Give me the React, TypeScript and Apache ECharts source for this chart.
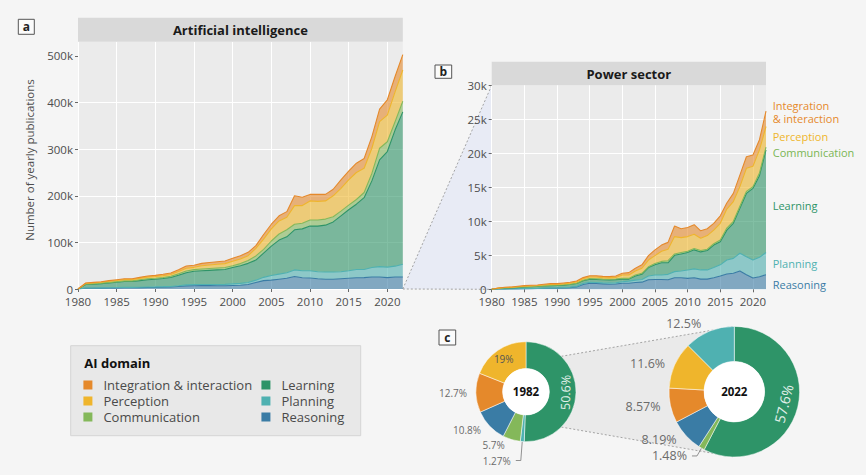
import React, { useEffect, useRef } from 'react';
import * as echarts from 'echarts';

const FONT = '"Open Sans", "Noto Sans", sans-serif';

const years = ['1980', '1981', '1982', '1983', '1984', '1985', '1986', '1987', '1988', '1989', '1990', '1991', '1992', '1993', '1994', '1995', '1996', '1997', '1998', '1999', '2000', '2001', '2002', '2003', '2004', '2005', '2006', '2007', '2008', '2009', '2010', '2011', '2012', '2013', '2014', '2015', '2016', '2017', '2018', '2019', '2020', '2021', '2022'];
const yTicksAI = [0, 100, 200, 300, 400, 500];
const yTicksPS = [0, 5, 10, 15, 20, 25, 30];

// Artificial intelligence, thousands of publications per year
const reasoningAI = [0, 1.5, 1.7, 1.9, 2.1, 2.4, 2.6, 2.7, 3.0, 3.3, 3.5, 3.8, 4.2, 5.5, 6.8, 7.0, 7.3, 7.2, 7.0, 7.0, 7.5, 8.0, 9.5, 14, 18, 19, 21, 23, 27, 24, 23.5, 22, 21, 21, 22, 23, 24, 24.5, 25.7, 25.7, 24.5, 25.7, 25.7];
const planningAI = [0, 0.5, 0.5, 0.6, 0.7, 0.7, 0.8, 0.8, 0.9, 1.0, 1.1, 1.2, 1.3, 1.5, 2.0, 2.5, 2.5, 2.6, 2.7, 3.0, 3.5, 4.0, 4.5, 5, 7, 10, 11, 12, 14, 15, 15.5, 15, 15.5, 15.5, 15, 16, 18, 17.5, 20.3, 22.3, 22.5, 23.3, 27.3];
const learningAI = [0, 7.5, 8.3, 9.0, 10.2, 11.4, 12.6, 12.5, 14.1, 15.7, 16.4, 17.5, 19.3, 22.5, 26.2, 28.5, 29.2, 30.2, 31.3, 32.0, 35, 38, 41, 43, 52, 63, 73, 77, 86, 90, 96, 98, 100.5, 107.5, 120, 131, 140, 154, 186, 229, 248, 292, 327];
const communicationAI = [0, 1.0, 1.0, 1.1, 1.2, 1.3, 1.5, 1.5, 1.8, 2.0, 2.2, 2.3, 2.4, 3.0, 3.5, 3.5, 4.0, 4.0, 4.0, 4.0, 4.0, 4.5, 6.0, 9, 8, 11, 13, 15, 12, 12, 13, 13, 13, 11, 10, 10, 10, 11, 16, 25, 21, 18, 23];
const perceptionAI = [0, 1.5, 1.7, 1.9, 2.3, 2.5, 2.7, 2.7, 3.0, 3.4, 3.5, 3.9, 4.0, 5.0, 6.0, 5.0, 7.0, 7.5, 8.0, 8.5, 9.5, 10.0, 10.5, 16, 22, 26, 28, 27, 40, 38, 41, 40, 39, 45, 49, 54, 58, 52, 54, 57, 57, 64, 67];
const integrationAI = [0, 0.9, 1.1, 1.2, 1.4, 1.7, 1.8, 1.8, 2.2, 2.5, 2.6, 2.8, 3.1, 4.0, 4.9, 4.5, 5.0, 5.5, 5.6, 5.5, 6.3, 7.0, 7.2, 6, 10, 10, 11, 12, 21, 18, 14, 15, 14, 14, 18, 19, 20, 21, 25, 27, 33, 33, 33];

// Power sector, thousands of publications per year
const reasoningPS = [0, 0.02, 0.032, 0.04, 0.06, 0.08, 0.1, 0.11, 0.14, 0.16, 0.17, 0.2, 0.25, 0.35, 0.7, 0.88, 0.85, 0.8, 0.75, 0.78, 0.9, 0.9, 1.0, 1.05, 1.4, 1.45, 1.45, 1.4, 1.7, 1.7, 1.6, 1.7, 1.5, 1.5, 1.7, 1.95, 2.25, 2.35, 2.7, 2.15, 1.65, 1.85, 2.15];
const planningPS = [0, 0.002, 0.004, 0.005, 0.01, 0.02, 0.02, 0.02, 0.02, 0.03, 0.03, 0.04, 0.05, 0.07, 0.15, 0.15, 0.15, 0.15, 0.17, 0.17, 0.2, 0.3, 0.35, 0.4, 0.55, 0.65, 0.65, 0.8, 0.9, 1.0, 1.25, 1.3, 1.35, 1.35, 1.5, 1.65, 2.05, 2.2, 2.6, 2.65, 2.65, 2.85, 3.27];
const learningPS = [0, 0.098, 0.152, 0.165, 0.21, 0.24, 0.26, 0.28, 0.32, 0.35, 0.35, 0.38, 0.4, 0.43, 0.4, 0.44, 0.45, 0.45, 0.46, 0.47, 0.4, 0.3, 0.6, 0.75, 1.25, 1.5, 1.8, 1.7, 2.4, 2.5, 2.55, 2.8, 2.65, 2.85, 3.3, 3.4, 4.4, 5.15, 6.6, 9.3, 10.55, 12.0, 15.09];
const communicationPS = [0, 0.01, 0.017, 0.02, 0.02, 0.03, 0.03, 0.03, 0.03, 0.04, 0.04, 0.04, 0.05, 0.05, 0.08, 0.1, 0.1, 0.1, 0.1, 0.1, 0.1, 0.1, 0.15, 0.15, 0.1, 0.2, 0.2, 0.3, 0.2, 0.2, 0.2, 0.2, 0.2, 0.2, 0.2, 0.25, 0.3, 0.3, 0.3, 0.3, 0.25, 0.4, 0.39];
const perceptionPS = [0, 0.04, 0.057, 0.06, 0.08, 0.09, 0.1, 0.11, 0.12, 0.13, 0.13, 0.14, 0.14, 0.17, 0.22, 0.23, 0.25, 0.22, 0.2, 0.23, 0.5, 0.5, 0.6, 0.75, 1.0, 1.15, 1.5, 1.7, 2.55, 2.2, 2.15, 2.1, 1.8, 2.0, 2.0, 2.45, 2.8, 2.9, 2.9, 3.4, 3.0, 3.4, 3.04];
const integrationPS = [0, 0.03, 0.038, 0.05, 0.06, 0.08, 0.09, 0.09, 0.11, 0.12, 0.11, 0.13, 0.14, 0.16, 0.17, 0.2, 0.2, 0.18, 0.19, 0.21, 0.25, 0.35, 0.4, 0.5, 0.65, 0.85, 0.9, 1.0, 1.55, 1.3, 1.35, 1.4, 1.1, 1.0, 1.0, 1.1, 0.9, 1.2, 1.7, 1.7, 1.65, 1.5, 2.25];

// Shares (%) of the power-sector publications
const pie1982Names = ['Learning', 'Planning', 'Communication', 'Reasoning', 'Integration & interaction', 'Perception'];
const pie1982Values = [50.6, 1.27, 5.7, 10.8, 12.7, 19];
const pie2022Names = ['Learning', 'Communication', 'Reasoning', 'Integration & interaction', 'Perception', 'Planning'];
const pie2022Values = [57.6, 1.48, 8.19, 8.57, 11.6, 12.5];

const COLORS: Record<string, string> = {
  'Integration & interaction': '#e5892b',
  Perception: '#efb52c',
  Communication: '#84b85a',
  Learning: '#2e9468',
  Planning: '#4fb1b1',
  Reasoning: '#3a7ca5',
};

const stackOrder = [
  { name: 'Reasoning', ai: reasoningAI, ps: reasoningPS },
  { name: 'Planning', ai: planningAI, ps: planningPS },
  { name: 'Learning', ai: learningAI, ps: learningPS },
  { name: 'Communication', ai: communicationAI, ps: communicationPS },
  { name: 'Perception', ai: perceptionAI, ps: perceptionPS },
  { name: 'Integration & interaction', ai: integrationAI, ps: integrationPS },
];

const legendOrder = ['Integration & interaction', 'Perception', 'Communication', 'Learning', 'Planning', 'Reasoning'];

function xAxisCfg(gridIndex: number) {
  return {
    type: 'category',
    gridIndex,
    data: years,
    boundaryGap: false,
    axisLine: { show: false },
    axisTick: { show: true, length: 3, interval: 4, lineStyle: { color: '#444', width: 0.8 } },
    axisLabel: { color: '#4d4d4d', fontSize: 11.5, lineHeight: 12, margin: 6, interval: 4, fontFamily: FONT },
    splitLine: { show: true, interval: 4, lineStyle: { color: '#ffffff', width: 1 } },
  };
}

function yAxisCfg(gridIndex: number, max: number, interval: number, ticks: number[]) {
  return {
    type: 'value',
    gridIndex,
    min: 0,
    max,
    interval,
    axisLine: { show: false },
    axisTick: { show: true, length: 3, lineStyle: { color: '#444', width: 0.8 }, customValues: ticks },
    axisLabel: {
      color: '#4d4d4d', fontSize: 11.5, lineHeight: 12, margin: 5, customValues: ticks, fontFamily: FONT,
      formatter: (v: number) => (v === 0 ? '0' : v + 'k'),
    },
    splitLine: { show: true, showMaxLine: false, lineStyle: { color: '#ffffff', width: 1 } },
  };
}

function pieItems(names: string[], values: number[], overrides: Record<string, any>) {
  return names.map((n, i) => ({
    name: n,
    value: values[i],
    itemStyle: { color: COLORS[n] },
    ...(overrides[n] || {}),
  }));
}

const outsideLbl = (len: number) => ({ label: { position: 'outside' }, labelLine: { show: false, length: len, length2: 0 } });
const leaderLbl = (len: number, len2: number) => ({
  label: { position: 'outside' },
  labelLine: { show: true, length: len, length2: len2, lineStyle: { color: '#777', width: 0.8 } },
});

function buildOption() {
  const series: any[] = [];
  stackOrder.forEach((d) => {
    const c = COLORS[d.name];
    series.push({
      id: 'ai-' + d.name,
      name: d.name, type: 'line', xAxisIndex: 0, yAxisIndex: 0, stack: 'ai',
      data: d.ai,
      symbol: 'none', showSymbol: false,
      lineStyle: { color: c, width: 1.1 }, itemStyle: { color: c },
      areaStyle: { color: c, opacity: 0.6 },
    });
  });
  stackOrder.forEach((d) => {
    const c = COLORS[d.name];
    series.push({
      id: 'ps-' + d.name,
      name: d.name, type: 'line', xAxisIndex: 1, yAxisIndex: 1, stack: 'ps',
      data: d.ps,
      symbol: 'none', showSymbol: false,
      lineStyle: { color: c, width: 1.1 }, itemStyle: { color: c },
      areaStyle: { color: c, opacity: 0.6 },
    });
  });

  series.push({
    type: 'pie', id: 'pie1982', center: [526, 391.7], radius: [23.3, 50], startAngle: 90, clockwise: true,
    avoidLabelOverlap: false, silent: true,
    itemStyle: { borderColor: '#ffffff', borderWidth: 0.5 },
    label: { formatter: '{c}%', fontSize: 10, lineHeight: 11, color: '#6b6b6b', fontFamily: FONT },
    labelLine: { show: false, length: 4, length2: 0 },
    data: pieItems(pie1982Names, pie1982Values, {
      Learning: { label: { position: 'inside', rotate: 'tangential', color: '#e4f1ea', fontSize: 12.5 } },
      Planning: leaderLbl(19, 5),
      Communication: outsideLbl(6),
      Reasoning: outsideLbl(5),
      'Integration & interaction': outsideLbl(4),
      Perception: { label: { position: 'inside', color: '#555', fontSize: 10 } },
    }),
  });
  series.push({
    type: 'pie', id: 'hole1982', center: [526, 391.7], radius: [0, 23.3], silent: true,
    itemStyle: { color: '#ffffff' },
    label: { position: 'center', formatter: '1982', fontSize: 11.5, fontWeight: 'bold', color: '#111', fontFamily: FONT },
    labelLine: { show: false },
    data: [{ value: 1, name: '1982' }],
  });

  series.push({
    type: 'pie', id: 'pie2022', center: [734.3, 391.7], radius: [30.3, 65.3], startAngle: 90, clockwise: true,
    avoidLabelOverlap: false, silent: true,
    itemStyle: { borderColor: '#ffffff', borderWidth: 0.5 },
    label: { formatter: '{c}%', fontSize: 12.5, color: '#6b6b6b', fontFamily: FONT },
    labelLine: { show: false, length: 5, length2: 0 },
    data: pieItems(pie2022Names, pie2022Values, {
      Learning: { label: { position: 'inside', rotate: 'tangential', color: '#e4f1ea', fontSize: 14 } },
      Communication: leaderLbl(9, 5),
      Reasoning: outsideLbl(6),
      'Integration & interaction': outsideLbl(5),
      Perception: outsideLbl(5),
      Planning: outsideLbl(8),
    }),
  });
  series.push({
    type: 'pie', id: 'hole2022', center: [734.3, 391.7], radius: [0, 30.3], silent: true,
    itemStyle: { color: '#ffffff' },
    label: { position: 'center', formatter: '2022', fontSize: 11.5, fontWeight: 'bold', color: '#111', fontFamily: FONT },
    labelLine: { show: false },
    data: [{ value: 1, name: '2022' }],
  });

  const txt = (x: number, y: number, text: string, extra: any = {}) => ({
    type: 'text', x, y,
    style: {
      text, fontFamily: FONT, fontSize: 11, fill: '#333',
      textAlign: 'left', textVerticalAlign: 'middle', align: 'left', verticalAlign: 'middle',
      ...extra,
    },
  });
  const center = (x: number, y: number, text: string, extra: any = {}) =>
    txt(x, y, text, { textAlign: 'center', align: 'center', ...extra });
  const dotted = (x1: number, y1: number, x2: number, y2: number) => ({
    type: 'line', shape: { x1, y1, x2, y2 },
    style: { stroke: '#8f8f8f', lineWidth: 0.8, lineDash: [2, 2] },
  });
  const letterBox = (x: number, y: number, w: number, h: number, t: string) => [
    { type: 'rect', shape: { x, y, width: w, height: h }, style: { fill: '#fbfbfb', stroke: '#555', lineWidth: 1 } },
    center(x + w / 2, y + h / 2, t, { fontSize: 12, fontWeight: 'bold', fill: '#222' }),
  ];

  const graphic: any[] = [
    { type: 'polygon', shape: { points: [[402.8, 289], [491.7, 85.3], [491.7, 289.3]] }, style: { fill: '#e8ebf5' } },
    dotted(402.8, 289, 491.7, 85.3),
    dotted(402.8, 289, 491.7, 289.3),
    { type: 'polygon', shape: { points: [[561.4, 356.3], [734.3, 326.4], [734.3, 457], [561.4, 427.1]] }, style: { fill: '#eaeaea' } },
    dotted(561.4, 356.3, 734.3, 326.4),
    dotted(561.4, 427.1, 734.3, 457),
    { type: 'rect', shape: { x: 78, y: 17.7, width: 324.8, height: 24 }, style: { fill: '#d9d9d9' } },
    center(240.4, 30, 'Artificial intelligence', { fontSize: 13, fontWeight: 'bold', fill: '#1a1a1a' }),
    { type: 'rect', shape: { x: 491.7, y: 61.7, width: 274.3, height: 23.6 }, style: { fill: '#d9d9d9' } },
    center(628.8, 73.5, 'Power sector', { fontSize: 13, fontWeight: 'bold', fill: '#1a1a1a' }),
    ...letterBox(18.3, 19.3, 16, 15, 'a'),
    ...letterBox(435, 65, 16.7, 13.3, 'b'),
    ...letterBox(439, 330, 16.7, 15, 'c'),
    {
      type: 'text', x: 29.3, y: 160, rotation: Math.PI / 2,
      style: {
        text: 'Number of yearly publications', fontFamily: FONT, fontSize: 11.5, fill: '#4d4d4d',
        textAlign: 'center', textVerticalAlign: 'middle', align: 'center', verticalAlign: 'middle',
      },
    },
    { type: 'rect', shape: { x: 70.7, y: 345.7, width: 290, height: 90 }, style: { fill: '#e8e8e8', stroke: '#d4d4d4', lineWidth: 1 } },
    txt(84.3, 362.7, 'AI domain', { fontSize: 13, fontWeight: 'bold', fill: '#111' }),
    txt(772.7, 112.2, 'Integration\n& interaction', { fill: COLORS['Integration & interaction'], lineHeight: 13 }),
    txt(772.7, 136.3, 'Perception', { fill: COLORS.Perception }),
    txt(772.7, 152, 'Communication', { fill: '#7ab554' }),
    txt(772.7, 205.7, 'Learning', { fill: COLORS.Learning }),
    txt(772.7, 263, 'Planning', { fill: COLORS.Planning }),
    txt(772.7, 284.7, 'Reasoning', { fill: COLORS.Reasoning }),
  ];

  return {
    animation: false,
    backgroundColor: '#f5f5f5',
    textStyle: { fontFamily: FONT },
    grid: [
      { left: 78, top: 42, width: 324.8, height: 247, show: true, backgroundColor: '#ebebeb', borderWidth: 0 },
      { left: 491.7, top: 85.3, width: 274.3, height: 204, show: true, backgroundColor: '#ebebeb', borderWidth: 0 },
    ],
    xAxis: [xAxisCfg(0), xAxisCfg(1)],
    yAxis: [yAxisCfg(0, 530, 100, yTicksAI), yAxisCfg(1, 30, 5, yTicksPS)],
    legend: {
      orient: 'vertical', left: 83.4, top: 377, height: 50, itemWidth: 9, itemHeight: 9, itemGap: 0,
      icon: 'rect', padding: 0, selectedMode: false,
      textStyle: { fontSize: 13, color: '#4a4a4a', lineHeight: 16, padding: [0, 9.3, 0, 6], fontFamily: FONT },
      data: legendOrder.map((n) => ({ name: n, itemStyle: { color: COLORS[n] } })),
    },
    graphic,
    series,
  };
}

export default function App() {
  const ref = useRef<HTMLDivElement>(null);
  useEffect(() => {
    if (!ref.current) return;
    const chart = echarts.init(ref.current, null, { renderer: 'svg', width: 866, height: 475 });
    chart.setOption(buildOption() as any);
    return () => chart.dispose();
  }, []);
  return <div ref={ref} style={{ position: 'fixed', left: 0, top: 0, width: 866, height: 475 }} />;
}
